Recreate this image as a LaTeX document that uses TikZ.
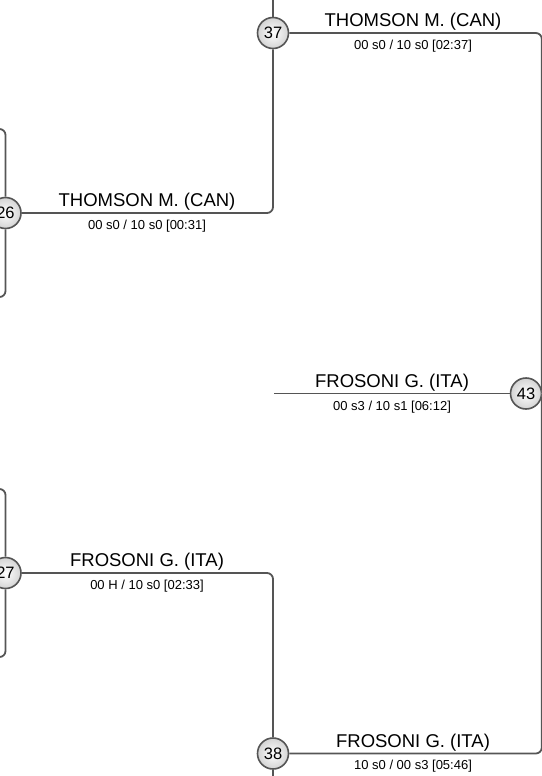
\documentclass[tikz,border=0pt]{standalone}
\usepackage{fontspec}
\setmainfont{Liberation Sans}
\usetikzlibrary{backgrounds}
\definecolor{linegray}{HTML}{555555}

\begin{document}
\begin{tikzpicture}[
  x=1pt, y=-1pt,
  link/.style={draw=linegray, line width=1.8pt, rounded corners=6pt},
  bout/.style={circle, draw=linegray, line width=1.6pt, minimum size=31pt, inner sep=0pt,
    inner color=white, outer color=black!17, font=\fontsize{16.5}{16.5}\selectfont},
  winner/.style={font=\fontsize{18.5}{20}\selectfont, anchor=base, inner sep=0pt},
  score/.style={font=\fontsize{13}{14}\selectfont, anchor=base, inner sep=0pt}
]
\useasboundingbox (0,0) rectangle (541,776);
\clip (0,0) rectangle (541,776);

% Bouts
\node[bout] (m26) at (5.5,213) {26};
\node[bout] (m27) at (5.5,573) {27};
\node[bout] (m37) at (273,33) {37};
\node[bout] (m38) at (273,753.5) {38};
\node[bout] (m43) at (526,393.5) {43};

% Free ends of the bracket
\coordinate (a26) at (-30,129);
\coordinate (b26) at (-30,297);
\coordinate (a27) at (-30,489);
\coordinate (b27) at (-30,657);
\coordinate (u37) at (273,-20);
\coordinate (d38) at (273,800);
\coordinate (r40) at (541.8,393.5);
\coordinate (f43) at (274,393.5);

% Bracket lines
\begin{scope}[on background layer]
\draw[link] (a26) -| (m26);
\draw[link] (b26) -| (m26);
\draw[link] (a27) -| (m27);
\draw[link] (b27) -| (m27);
\draw[link] (m26) -| (m37);
\draw[link] (m27) -| (m38);
\draw[link] (m37) -- (u37);
\draw[link] (m38) -- (d38);
\draw[link] (m37) -| (r40);
\draw[link] (m38) -| (r40);
\draw[link] (f43) -- (m43);
\end{scope}

% Winners and scores
\node[winner] (w26) at (147,206.5) {THOMSON M. (CAN)};
\node[score] (s26) at (147,229.5) {00 s0 / 10 s0 [00:31]};
\node[winner] (w37) at (413,26.5) {THOMSON M. (CAN)};
\node[score] (s37) at (413,49) {00 s0 / 10 s0 [02:37]};
\node[winner] (w43) at (392,387) {FROSONI G. (ITA)};
\node[score] (s43) at (392,410) {00 s3 / 10 s1 [06:12]};
\node[winner] (w27) at (147,566.5) {FROSONI G. (ITA)};
\node[score] (s27) at (147,589.5) {00 H / 10 s0 [02:33]};
\node[winner] (w38) at (413,747) {FROSONI G. (ITA)};
\node[score] (s38) at (413,769.5) {10 s0 / 00 s3 [05:46]};

\end{tikzpicture}
\end{document}
